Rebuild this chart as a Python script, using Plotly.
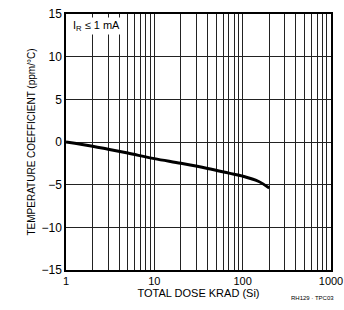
import plotly.graph_objects as go

dose = [1, 2, 3, 5, 10, 20, 40, 70, 100, 150, 200]
tempco = [0, -0.5, -0.85, -1.3, -1.95, -2.5, -3.1, -3.65, -4.0, -4.6, -5.4]

x_grid = [m * 10 ** k for k in range(3) for m in range(1, 10)] + [1000]
x_labels = {1: "1", 10: "10", 100: "100", 1000: "1000"}
y_ticks = [-15, -10, -5, 0, 5, 10, 15]

font_family = "Liberation Sans Narrow, Arial Narrow, Liberation Sans, Arial, sans-serif"

fig = go.Figure()
fig.add_trace(go.Scatter(x=dose, y=tempco, mode="lines",
                         line=dict(color="black", width=3, shape="spline"),
                         showlegend=False))

fig.update_layout(
    width=344, height=310,
    margin=dict(l=66, r=13, t=14, b=40),
    paper_bgcolor="white", plot_bgcolor="white",
    font=dict(family=font_family, size=11, color="black"),
    xaxis=dict(type="log", range=[0, 3], tickvals=x_grid,
               ticktext=[x_labels.get(v, "") for v in x_grid],
               showgrid=True, gridcolor="#222", gridwidth=1,
               showline=True, linecolor="black", linewidth=1.5, mirror=True,
               ticks="", zeroline=False, automargin=False,
               ticklabeloverflow="allow",
               title=dict(text="TOTAL DOSE KRAD (Si)", standoff=2,
                          font=dict(size=11)),
               tickfont=dict(size=11)),
    yaxis=dict(range=[-15, 15], tickvals=y_ticks,
               showgrid=True, gridcolor="#222", gridwidth=1,
               showline=True, linecolor="black", linewidth=1.5, mirror=True,
               ticks="", zeroline=False, automargin=False,
               ticklabeloverflow="allow",
               title=dict(text="TEMPERATURE COEFFICIENT (ppm/°C)", standoff=4,
                          font=dict(size=10)),
               tickfont=dict(size=12)),
    annotations=[
        dict(text="I<sub>R</sub> ≤ 1 mA", xref="paper", yref="paper",
             x=0.02, y=0.99, xanchor="left", yanchor="top", showarrow=False,
             bgcolor="white", font=dict(size=11)),
        dict(text="RH129 · TPC03", xref="paper", yref="paper",
             x=1.02, y=-0.11, xanchor="right", yanchor="middle", showarrow=False,
             font=dict(size=6)),
    ],
)

fig.write_html(
    "out.html",
    config={"displayModeBar": False},
    post_script="document.body.style.margin='0';document.body.style.overflow='hidden';",
)
